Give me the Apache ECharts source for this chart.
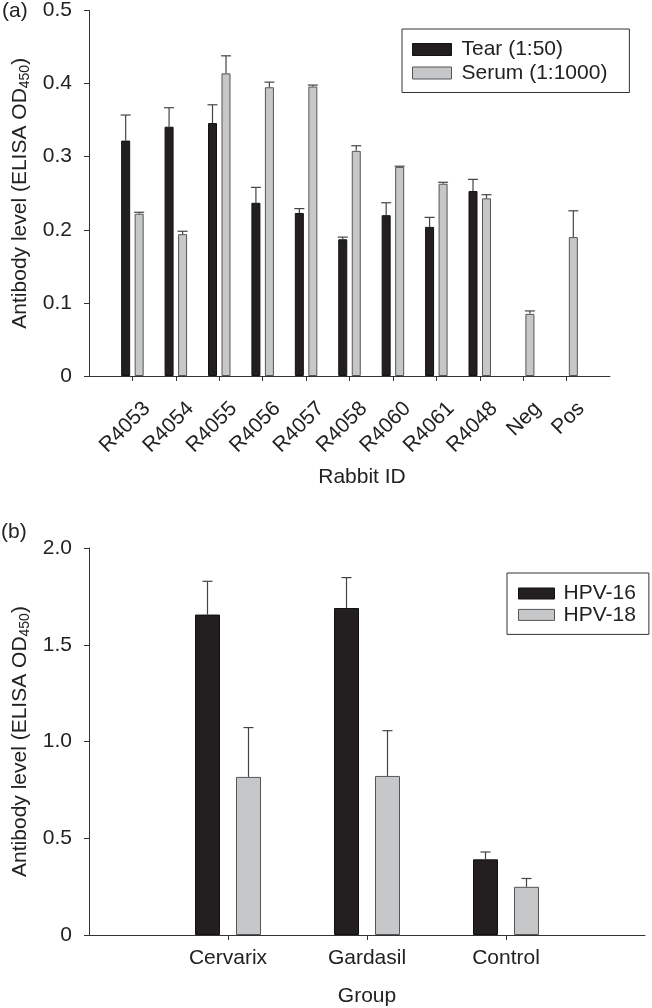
<!DOCTYPE html>
<html>
<head>
<meta charset="utf-8">
<script src="https://cdn.jsdelivr.net/npm/echarts@6/dist/echarts.min.js"></script>
<style>html,body{margin:0;padding:0;background:#fff}#c{width:652px;height:1008px}</style>
</head>
<body>
<div id="c"></div>
<script>
// ---- Data: panel (a) ----
const CATS_A = ['R4053','R4054','R4055','R4056','R4057','R4058','R4060','R4061','R4048','Neg','Pos'];
const TEAR = [0.322,0.341,0.346,0.237,0.223,0.187,0.220,0.204,0.253,null,null];
const TEAR_ERR = [0.035,0.026,0.025,0.021,0.006,0.003,0.017,0.013,0.016,null,null];
const SERUM = [0.222,0.194,0.414,0.395,0.396,0.308,0.286,0.263,0.243,0.085,0.190];
const SERUM_ERR = [0.002,0.004,0.024,0.007,0.002,0.007,0.001,0.002,0.005,0.004,0.036];
const SERIES_A = ['Tear (1:50)','Serum (1:1000)'];
// ---- Data: panel (b) ----
const CATS_B = ['Cervarix','Gardasil','Control'];
const HPV16 = [1.656,1.690,0.391];
const HPV16_ERR = [0.172,0.157,0.038];
const HPV18 = [0.817,0.822,0.249];
const HPV18_ERR = [0.255,0.234,0.043];
const SERIES_B = ['HPV-16','HPV-18'];

const FONT = "'Liberation Sans', Arial, Helvetica, sans-serif";
const TXT = '#222';
const AX = '#333';
const BLACK = '#231f20';
const GRAY = '#c6c7c9';

function pad(arr){ return [null].concat(arr, [null]); }
function padCats(arr){ return [''].concat(arr, ['']); }
function inner(n){ return function(i){ return i > 0 && i < n - 1; }; }

function errSeries(xi, vals, errs, offset, cap){
  const data = [];
  vals.forEach(function(v, i){ if (v != null && errs[i] != null) data.push([i + 1, v, errs[i]]); });
  return {
    type: 'custom', xAxisIndex: xi, yAxisIndex: xi, data: data, z: 5, silent: true,
    renderItem: function(params, api){
      const c = api.value(0), v = api.value(1), e = api.value(2);
      const p0 = api.coord([c, v]);
      const p1 = api.coord([c, v + e]);
      const x = p0[0] + offset;
      const st = { stroke: '#444', lineWidth: 1.2 };
      return { type: 'group', children: [
        { type: 'line', shape: { x1: x, y1: p0[1], x2: x, y2: p1[1] }, style: st },
        { type: 'line', shape: { x1: x - cap, y1: p1[1], x2: x + cap, y2: p1[1] }, style: st }
      ]};
    }
  };
}

function yName(){
  return '{a|Antibody level (ELISA OD}{s|450}{a|)}';
}
const yNameStyle = {
  rich: {
    a: { fontSize: 21, fontFamily: FONT, color: TXT },
    s: { fontSize: 14, fontFamily: FONT, color: TXT, padding: [9, 0, 0, 0] }
  }
};

const axisLineStyle = { show: true, lineStyle: { color: AX, width: 1 } };
const tickStyle = { show: true, length: 5, lineStyle: { color: AX, width: 1 } };

const nA = CATS_A.length + 2;
const nB = CATS_B.length + 2;

const option = {
  animation: false,
  backgroundColor: '#fff',
  textStyle: { fontFamily: FONT, color: TXT },
  title: [
    { text: '(a)', left: 2, top: 1, padding: 0, textStyle: { fontSize: 21, fontWeight: 'normal', color: TXT, fontFamily: FONT } },
    { text: '(b)', left: 1, top: 522, padding: 0, textStyle: { fontSize: 21, fontWeight: 'normal', color: TXT, fontFamily: FONT } },
    { text: 'Rabbit ID', left: 362, textAlign: 'center', top: 467, padding: 0, textStyle: { fontSize: 21, fontWeight: 'normal', color: TXT, fontFamily: FONT } }
  ],
  legend: [
    {
      data: [
        { name: SERIES_A[0], itemStyle: { color: BLACK, borderColor: '#111', borderWidth: 1 } },
        { name: SERIES_A[1], itemStyle: { color: GRAY, borderColor: '#555', borderWidth: 1 } }
      ],
      orient: 'vertical', left: 402, top: 29, icon: 'rect',
      itemWidth: 39, itemHeight: 12, itemGap: 2.5,
      padding: [10, 22, 9, 10],
      borderColor: '#333', borderWidth: 1, selectedMode: false,
      textStyle: { fontSize: 21, fontFamily: FONT, color: TXT, lineHeight: 21, padding: [0, 0, 0, 5] }
    },
    {
      data: [
        { name: SERIES_B[0], itemStyle: { color: BLACK, borderColor: '#111', borderWidth: 1 } },
        { name: SERIES_B[1], itemStyle: { color: GRAY, borderColor: '#555', borderWidth: 1 } }
      ],
      orient: 'vertical', left: 507, top: 573, icon: 'rect',
      itemWidth: 36, itemHeight: 11, itemGap: 0.4,
      padding: [10, 13, 9, 11],
      borderColor: '#333', borderWidth: 1, selectedMode: false,
      textStyle: { fontSize: 21, fontFamily: FONT, color: TXT, lineHeight: 19, padding: [0, 0, 0, 4] }
    }
  ],
  grid: [
    { left: 89, right: 42, top: 10, bottom: 632, containLabel: false },
    { left: 89, right: 7, top: 548, bottom: 72, containLabel: false }
  ],
  xAxis: [
    {
      type: 'category', gridIndex: 0, data: padCats(CATS_A), boundaryGap: false,
      axisLine: axisLineStyle,
      axisTick: Object.assign({}, tickStyle, { interval: inner(nA) }),
      axisLabel: { interval: inner(nA), rotate: 45, align: 'right', verticalAlign: 'top',
        padding: [10, 0, 0, 0], margin: 15, fontSize: 21, fontFamily: FONT, color: TXT },
      splitLine: { show: false }
    },
    {
      type: 'category', gridIndex: 1, data: padCats(CATS_B), boundaryGap: false,
      axisLine: axisLineStyle,
      axisTick: Object.assign({}, tickStyle, { interval: inner(nB) }),
      axisLabel: { interval: inner(nB), margin: 13, fontSize: 21, fontFamily: FONT, color: TXT },
      name: 'Group', nameLocation: 'middle', nameGap: 51,
      nameTextStyle: { fontSize: 21, fontFamily: FONT, color: TXT },
      splitLine: { show: false }
    }
  ],
  yAxis: [
    {
      type: 'value', gridIndex: 0, min: 0, max: 0.5, interval: 0.1,
      axisLine: axisLineStyle, axisTick: tickStyle,
      axisLabel: { margin: 17, fontSize: 21, fontFamily: FONT, color: TXT,
        formatter: function(v){ return v === 0 ? '0' : v.toFixed(1); } },
      splitLine: { show: false },
      name: yName(), nameLocation: 'middle', nameGap: 57, nameTextStyle: yNameStyle
    },
    {
      type: 'value', gridIndex: 1, min: 0, max: 2, interval: 0.5,
      axisLine: axisLineStyle, axisTick: tickStyle,
      axisLabel: { margin: 17, fontSize: 21, fontFamily: FONT, color: TXT,
        formatter: function(v){ return v === 0 ? '0' : v.toFixed(1); } },
      splitLine: { show: false },
      name: yName(), nameLocation: 'middle', nameGap: 57, nameTextStyle: yNameStyle
    }
  ],
  series: [
    { name: SERIES_A[0], type: 'bar', xAxisIndex: 0, yAxisIndex: 0, data: pad(TEAR),
      barWidth: 9, barGap: '50%', itemStyle: { color: BLACK, borderColor: '#111', borderWidth: 1 } },
    { name: SERIES_A[1], type: 'bar', xAxisIndex: 0, yAxisIndex: 0, data: pad(SERUM),
      barWidth: 9, barGap: '50%', itemStyle: { color: GRAY, borderColor: '#555', borderWidth: 1 } },
    errSeries(0, TEAR, TEAR_ERR, -6.75, 5),
    errSeries(0, SERUM, SERUM_ERR, 6.75, 5),
    { name: SERIES_B[0], type: 'bar', xAxisIndex: 1, yAxisIndex: 1, data: pad(HPV16),
      barWidth: 25, barGap: '64%', itemStyle: { color: BLACK, borderColor: '#111', borderWidth: 1 } },
    { name: SERIES_B[1], type: 'bar', xAxisIndex: 1, yAxisIndex: 1, data: pad(HPV18),
      barWidth: 25, barGap: '64%', itemStyle: { color: GRAY, borderColor: '#555', borderWidth: 1 } },
    errSeries(1, HPV16, HPV16_ERR, -20.5, 5),
    errSeries(1, HPV18, HPV18_ERR, 20.5, 5)
  ]
};

const chart = echarts.init(document.getElementById('c'), null, { renderer: 'canvas' });
chart.setOption(option);
</script>
</body>
</html>
